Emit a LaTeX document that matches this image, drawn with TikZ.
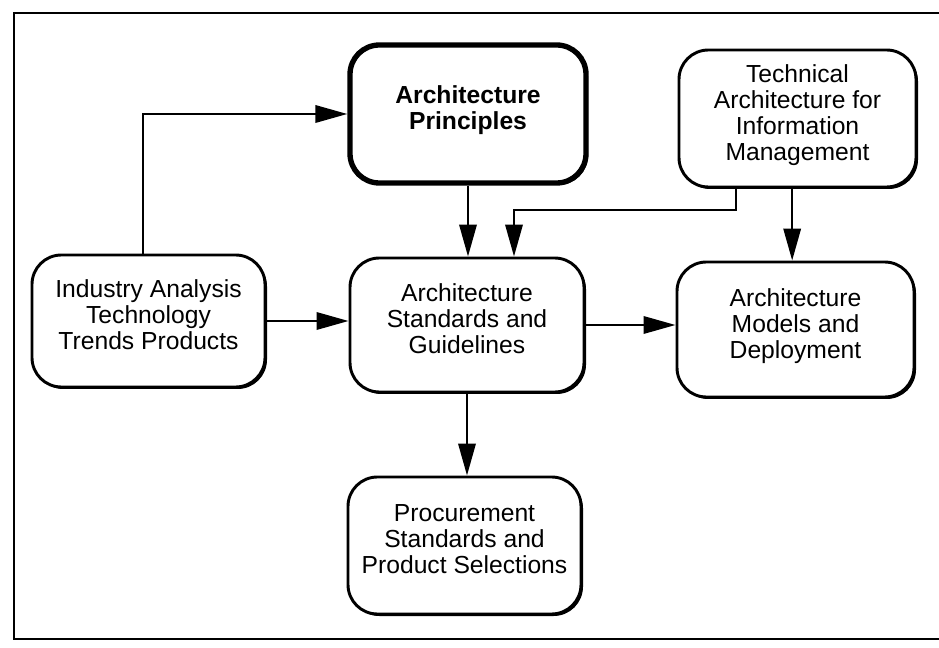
\documentclass[tikz,border=0pt]{standalone}
\usepackage{fontspec}
\setmainfont{Liberation Sans}
\usetikzlibrary{arrows.meta,shadows}
\begin{document}
\begin{tikzpicture}[x=0.75pt,y=-0.75pt,
  box/.style={draw,line width=2.2pt,rounded corners=22pt,fill=white,align=center,
    font=\fontsize{18.5}{19.5}\selectfont,inner sep=0pt,
    drop shadow={shadow xshift=1.5pt,shadow yshift=-1.5pt,fill=black,opacity=1},
    execute at end node={\rule[-9pt]{0pt}{0pt}}},
  arr/.style={line width=1.8pt,-{Triangle[length=24pt,width=13pt]}}]
\useasboundingbox (0,0) rectangle (939,648);
\draw[line width=1.6pt] (960,13) -- (14,13) -- (14,639) -- (960,639);
\node[box,line width=4pt,font=\fontsize{18.5}{19.5}\selectfont\bfseries,minimum width=236*0.75pt,minimum height=138*0.75pt] (princ) at (468,114) {Architecture\\Principles};
\node[box,minimum width=237*0.75pt,minimum height=137*0.75pt] (tech) at (797.5,118.5) {Technical\\Architecture for\\Information\\Management};
\node[box,minimum width=233*0.75pt,minimum height=132*0.75pt] (ind) at (148.5,321) {Industry Analysis\\Technology\\Trends Products};
\node[box,minimum width=234*0.75pt,minimum height=134*0.75pt] (std) at (467,325) {Architecture\\Standards and\\Guidelines};
\node[box,minimum width=237*0.75pt,minimum height=135*0.75pt] (mod) at (795.5,329.5) {Architecture\\Models and\\Deployment};
\node[box,minimum width=233*0.75pt,minimum height=137*0.75pt] (proc) at (464.5,545.5) {Procurement\\Standards and\\Product Selections};
\coordinate (bend) at (514,210);
\draw[arr] ([xshift=-4pt]ind.north) |- (princ.west);
\draw[arr] (princ.south) -- (princ.south |- std.north);
\draw[arr] ([xshift=-46pt]tech.south) |- (bend) -- (bend |- std.north);
\draw[arr] ([xshift=-4pt]tech.south) -- ([xshift=-4pt]tech.south |- mod.north);
\draw[arr] (ind.east) -- (ind.east -| std.west);
\draw[arr] (std.east) -- (std.east -| mod.west);
\draw[arr] (std.south) -- (std.south |- proc.north);
\end{tikzpicture}
\end{document}
